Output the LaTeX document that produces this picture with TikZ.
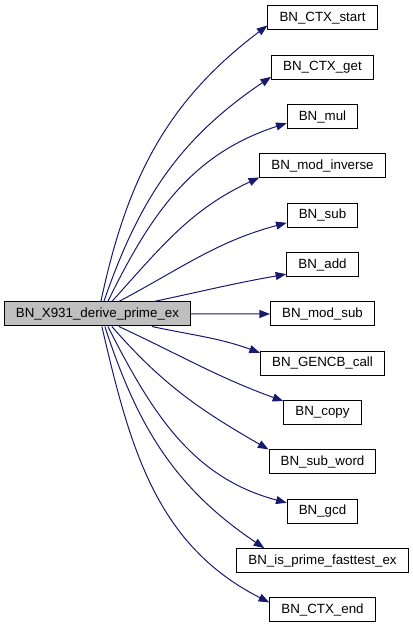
\documentclass[tikz,border=0pt]{standalone}
\usepackage{fontspec}
\setmainfont{Liberation Sans}
\usepackage{xcolor}
\usepackage{tikz}
\usetikzlibrary{calc,arrows.meta}
\definecolor{callblue}{HTML}{191970}
\definecolor{rootgray}{HTML}{BFBFBF}

\begin{document}
\begin{tikzpicture}[x=0.75pt, y=0.75pt,
  fn/.style={draw=black, line width=0.75pt, fill=white, minimum height=18pt,
    inner xsep=8.7pt, inner ysep=0pt, font=\fontsize{10}{12}\selectfont},
  root/.style={fn, fill=rootgray},
  call/.style={callblue, line width=0.75pt, -{Triangle[length=8pt, width=6pt]}}]
\useasboundingbox (0,0) rectangle (413,628);
% caller
\node[root] (main) at (97.5,314) {BN\_X931\_derive\_prime\_ex};
% callees, one per row
\foreach \nm/\txt [count=\i from 0] in {ctxstart/BN\_CTX\_start, ctxget/BN\_CTX\_get,
    mul/BN\_mul, modinverse/BN\_mod\_inverse, sub/BN\_sub, add/BN\_add,
    modsub/BN\_mod\_sub, gencb/BN\_GENCB\_call, copy/BN\_copy,
    subword/BN\_sub\_word, gcd/BN\_gcd, isprime/BN\_is\_prime\_fasttest\_ex,
    ctxend/BN\_CTX\_end} {
  \node[fn] (\nm) at (322.5,{610-49.33*\i}) {\txt};
}
% calls
\draw[call] (main.east) -- (modsub.west);
\foreach \s/\dx/\o/\t/\a/\b/\ex/\ey in {
    north west/97/78/ctxstart/south west/217/0/5,
    north west/100/71/ctxget/south west/214/0/3,
    north west/104/64/mul/south west/198/0/6,
    north west/108/48/modinverse/south west/205/0/1,
    north west/115/28/sub/south west/195/0/5,
    north west/150/12/add/south west/190/0/3,
    south west/148/-12/gencb/north west/160/0/-2,
    south west/115/-25/copy/north west/160/0/-1,
    south west/108/-49/subword/north west/150/0/0,
    south west/104/-63/gcd/north west/165/0/-4,
    south west/101/-72/isprime/north west/146/28/0,
    south west/98/-77/ctxend/north west/153/0/-5} {
  \draw[call] ($(main.\s)+(\dx,0)$) to[out=\o, in=\b] ($(\t.\a)+(\ex,\ey)$);
}
\end{tikzpicture}
\end{document}
